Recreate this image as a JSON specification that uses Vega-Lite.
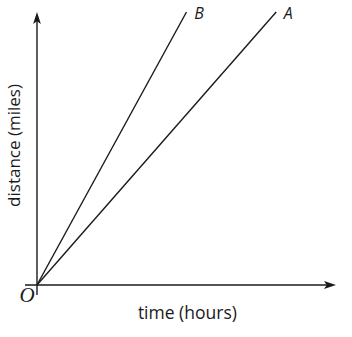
{
  "$schema": "https://vega.github.io/schema/vega-lite/v6.json",
  "width": 352,
  "height": 337,
  "padding": 0,
  "autosize": "none",
  "config": {"view": {"stroke": null}},
  "background": "white",
  "datasets": {
    "segments": [
      {"name": "time axis", "t1": -0.4, "d1": 0, "t2": 9.7, "d2": 0},
      {"name": "distance axis", "t1": 0, "d1": -0.37, "t2": 0, "d2": 9.7},
      {"name": "A", "t1": 0, "d1": 0, "t2": 8, "d2": 10},
      {"name": "B", "t1": 0, "d1": 0, "t2": 5, "d2": 10}
    ],
    "labels": [
      {"label": "A", "t": 8.4, "d": 9.93},
      {"label": "B", "t": 5.42, "d": 9.93}
    ]
  },
  "layer": [
    {
      "data": {"name": "segments"},
      "mark": {"type": "rule", "color": "#1a1a1a", "strokeWidth": 1.4},
      "encoding": {
        "x": {"field": "t1", "type": "quantitative", "scale": {"domain": [-1.237, 10.535], "nice": false, "zero": false}, "axis": null},
        "y": {"field": "d1", "type": "quantitative", "scale": {"domain": [-1.905, 10.44], "nice": false, "zero": false}, "axis": null},
        "x2": {"field": "t2"},
        "y2": {"field": "d2"}
      }
    },
    {
      "data": {"values": [{"t": 10, "d": 0}]},
      "mark": {"type": "point", "filled": true, "opacity": 1, "color": "#1a1a1a", "size": 144, "shape": "M0,0 L-2,-0.65 L-1.55,0 L-2,0.65 Z"},
      "encoding": {
        "x": {"field": "t", "type": "quantitative"},
        "y": {"field": "d", "type": "quantitative"}
      }
    },
    {
      "data": {"values": [{"t": 0, "d": 10}]},
      "mark": {"type": "point", "filled": true, "opacity": 1, "color": "#1a1a1a", "size": 144, "shape": "M0,0 L-0.65,2 L0,1.55 L0.65,2 Z"},
      "encoding": {
        "x": {"field": "t", "type": "quantitative"},
        "y": {"field": "d", "type": "quantitative"}
      }
    },
    {
      "data": {"name": "labels"},
      "mark": {"type": "text", "font": "Open Sans", "fontSize": 16, "fontStyle": "italic", "color": "#1a1a1a"},
      "encoding": {
        "x": {"field": "t", "type": "quantitative"},
        "y": {"field": "d", "type": "quantitative"},
        "text": {"field": "label"}
      }
    },
    {
      "data": {"values": [{"label": "O", "t": -0.33, "d": -0.42}]},
      "mark": {"type": "text", "font": "Liberation Serif", "fontSize": 21, "fontStyle": "italic", "color": "#1a1a1a"},
      "encoding": {
        "x": {"field": "t", "type": "quantitative"},
        "y": {"field": "d", "type": "quantitative"},
        "text": {"field": "label"}
      }
    },
    {
      "data": {"values": [{"title": "time (hours)", "t": 5.03, "d": -1.05}]},
      "mark": {"type": "text", "font": "Open Sans", "fontSize": 17.5, "color": "#1a1a1a"},
      "encoding": {
        "x": {"field": "t", "type": "quantitative"},
        "y": {"field": "d", "type": "quantitative"},
        "text": {"field": "title"}
      }
    },
    {
      "data": {"values": [{"title": "distance (miles)", "t": -0.74, "d": 5.11}]},
      "mark": {"type": "text", "font": "Open Sans", "fontSize": 17, "angle": 270, "color": "#1a1a1a"},
      "encoding": {
        "x": {"field": "t", "type": "quantitative"},
        "y": {"field": "d", "type": "quantitative"},
        "text": {"field": "title"}
      }
    }
  ]
}
